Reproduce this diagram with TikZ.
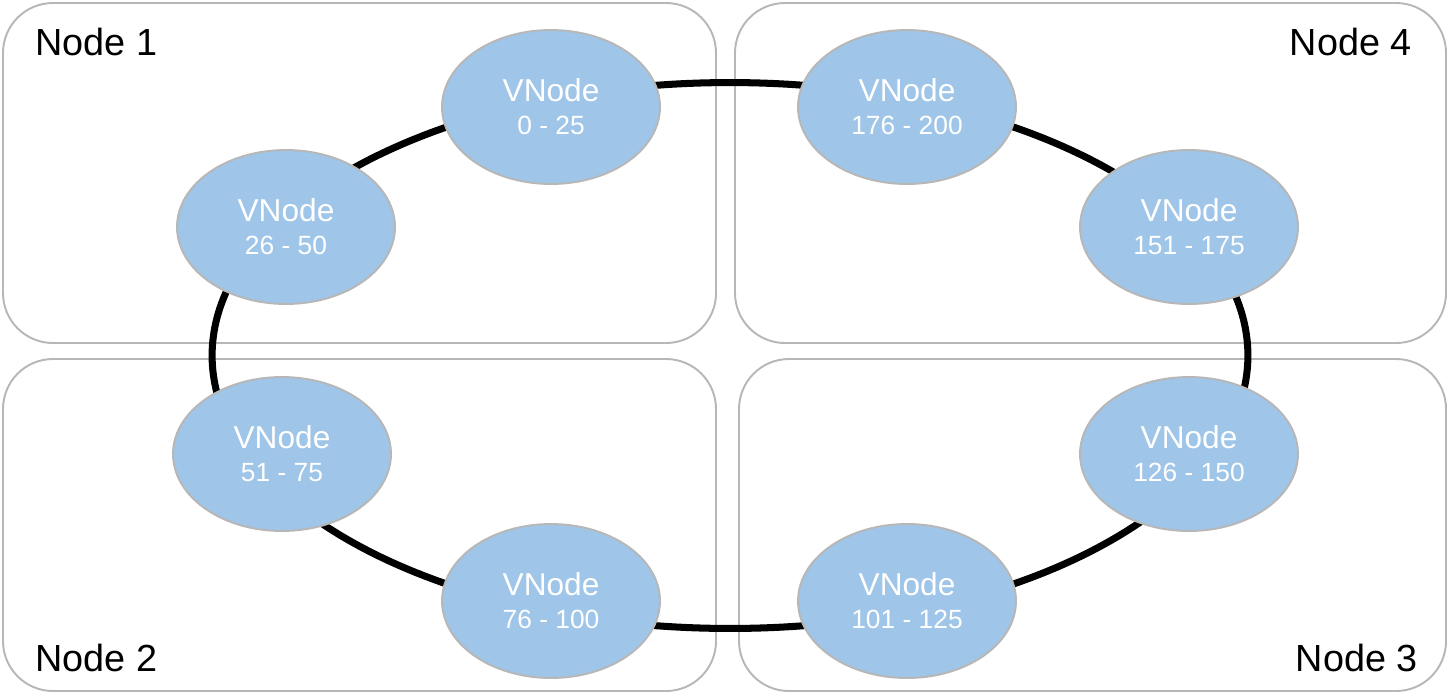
\documentclass[tikz,border=0pt]{standalone}
\usepackage{fontspec}
\setmainfont{Liberation Sans}
\usepackage{tikz}
\usetikzlibrary{shapes.geometric}
\usepackage{xcolor}
\definecolor{bleu}{HTML}{9FC5E8}
\definecolor{gris}{HTML}{B7B7B7}

\begin{document}
\begin{tikzpicture}[x=0.02cm,y=-0.02cm,
    boite/.style={draw=gris,line width=1.1pt,rounded corners=1cm},
    vnode/.style={ellipse,draw=gris,line width=1.1pt,fill=bleu,text=white,
      minimum width=4.36cm,minimum height=3.08cm,inner sep=0pt,align=center,
      font=\fontsize{18}{18.7}\selectfont},
    titre/.style={inner sep=0pt,font=\fontsize{21.5}{24}\selectfont}]
      \def\plage{\fontsize{15}{18.7}\selectfont}

      \useasboundingbox (0,0) rectangle (1449,694);

      % Serveurs
      \draw[boite] (3,3) rectangle (716,343);
      \draw[boite] (735,3) rectangle (1446,343);
      \draw[boite] (3,359) rectangle (716,691);
      \draw[boite] (739,359) rectangle (1446,691);

      \node[titre,anchor=base west] (n1) at (35,55) {Node 1};
      \node[titre,anchor=base east] (n4) at (1412,55) {Node 4};
      \node[titre,anchor=base west] (n2) at (35,671) {Node 2};
      \node[titre,anchor=base east] (n3) at (1418,671) {Node 3};

      % Anneau
      \coordinate (O) at (730,355.5);
      \draw[line width=4pt] (O) ellipse [x radius=10.36cm, y radius=5.46cm];

      % Noeuds virtuels
      \node[vnode] (v1) at (551,107) {VNode\\\plage 0 - 25};
      \node[vnode] (v2) at (286,227) {VNode\\\plage 26 - 50};
      \node[vnode] (v3) at (282,454) {VNode\\\plage 51 - 75};
      \node[vnode] (v4) at (551,601) {VNode\\\plage 76 - 100};
      \node[vnode] (v5) at (907,601) {VNode\\\plage 101 - 125};
      \node[vnode] (v6) at (1189,454) {VNode\\\plage 126 - 150};
      \node[vnode] (v7) at (1189,227) {VNode\\\plage 151 - 175};
      \node[vnode] (v8) at (907,107) {VNode\\\plage 176 - 200};
    \end{tikzpicture}
\end{document}
